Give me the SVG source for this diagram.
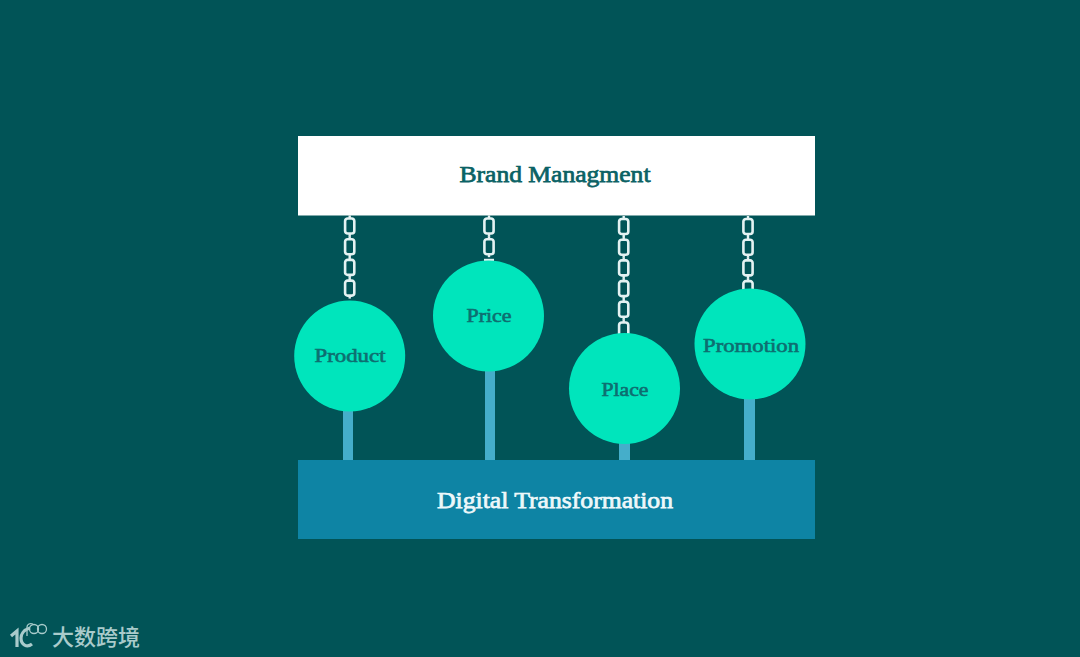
<svg xmlns="http://www.w3.org/2000/svg" width="1080" height="657" viewBox="0 0 1080 657">
<style>
.t{font-family:"Liberation Serif","Noto Serif",serif;font-weight:400;text-anchor:middle;stroke-width:.75}
.c{font-size:19px;fill:#0e6e70;stroke:#0e6e70;stroke-width:.6}
.ball{fill:#00e5bc}
.post{fill:#45aeca}
.link{fill:none;stroke:#e4f2f2;stroke-width:2.600}
.pin{stroke:#e4f2f2;stroke-width:2.400}
.logo{fill:none;stroke:#a9cbcb;stroke-width:3.200}
.thin{fill:none;stroke:#a9cbcb;stroke-width:1.300}
</style>
<defs>
<g id="lk"><line class="pin" x1="0" y1="-3" x2="0" y2="0"/><rect class="link" x="-4.600" y="0" width="9.200" height="15" rx="2.500"/><line class="pin" x1="0" y1="15" x2="0" y2="18"/></g>
</defs>
<rect width="1080" height="657" fill="#015457"/>
<g id="connectors">
<rect class="post" x="343" y="400" width="10" height="61"/>
<rect class="post" x="485" y="360" width="10" height="101"/>
<rect class="post" x="619" y="430" width="11" height="31"/>
<rect class="post" x="744" y="390" width="11" height="71"/>
<g id="chain-product"><use href="#lk" x="349.700" y="218.500"/><use href="#lk" x="349.700" y="239.200"/><use href="#lk" x="349.700" y="259.900"/><use href="#lk" x="349.700" y="280.600"/></g>
<g id="chain-price"><use href="#lk" x="489" y="218.500"/><use href="#lk" x="489" y="239.200"/><line class="pin" x1="484" y1="260" x2="494" y2="260"/></g>
<g id="chain-place"><use href="#lk" x="623.700" y="219"/><use href="#lk" x="623.700" y="239.700"/><use href="#lk" x="623.700" y="260.400"/><use href="#lk" x="623.700" y="281.100"/><use href="#lk" x="623.700" y="301.800"/><use href="#lk" x="623.700" y="322.500"/></g>
<g id="chain-promotion"><use href="#lk" x="748" y="219"/><use href="#lk" x="748" y="239.700"/><use href="#lk" x="748" y="260.400"/><use href="#lk" x="748" y="281.100"/></g>
</g>
<g id="brand"><rect x="298" y="136" width="517" height="79.500" fill="#fff"/><text class="t" x="555" y="182" font-size="24" fill="#0b6265" stroke="#0b6265" textLength="191" lengthAdjust="spacingAndGlyphs">Brand Managment</text></g>
<g id="digital"><rect x="298" y="460" width="517" height="79" fill="#0e84a4"/><text class="t" x="555" y="508" font-size="24" fill="#eef8fa" stroke="#eef8fa" textLength="236" lengthAdjust="spacingAndGlyphs">Digital Transformation</text></g>
<g id="product"><circle class="ball" cx="349.700" cy="356" r="55.500"/><text class="t c" x="350" y="362" textLength="71" lengthAdjust="spacingAndGlyphs">Product</text></g>
<g id="price"><circle class="ball" cx="488.500" cy="316" r="55.500"/><text class="t c" x="489" y="322" textLength="45" lengthAdjust="spacingAndGlyphs">Price</text></g>
<g id="place"><circle class="ball" cx="624.500" cy="388.500" r="55.500"/><text class="t c" x="625" y="396" textLength="47" lengthAdjust="spacingAndGlyphs">Place</text></g>
<g id="promotion"><circle class="ball" cx="750" cy="344" r="55.500"/><text class="t c" x="751" y="351.500" textLength="96" lengthAdjust="spacingAndGlyphs">Promotion</text></g>
<g id="watermark">
<path class="logo" d="M11 636 L17 631 V647"/><path class="logo" d="M30 628 C23 630 21 635 21 638 C21 645 27 648 32 644"/>
<path class="thin" d="M27 636 V627 C27 624 30 623 33 624"/>
<circle class="thin" cx="34" cy="629" r="4.500"/><circle class="thin" cx="42" cy="629" r="4.500"/>
<text x="52" y="645" font-family="'Noto Sans CJK SC',sans-serif" font-size="22" font-weight="500" fill="#a9cbcb">大数跨境</text>
</g>
</svg>
